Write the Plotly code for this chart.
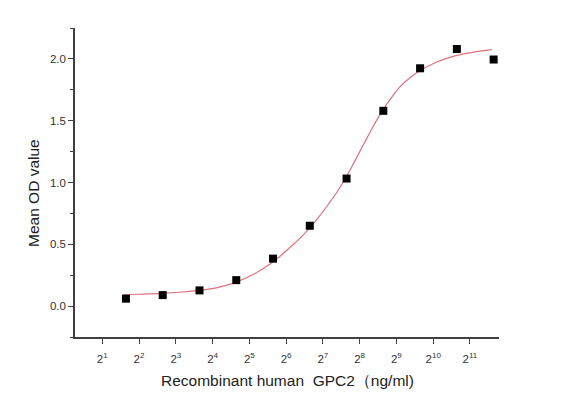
import plotly.graph_objects as go
import math

# Data
conc = [3.125, 6.25, 12.5, 25, 50, 100, 200, 400, 800, 1600, 3200]
od_mean = [0.06, 0.089, 0.127, 0.21, 0.384, 0.65, 1.032, 1.58, 1.924, 2.08, 1.995]

# Fitted curve (log2 of concentration, OD)
curve_log2 = [1.57, 2.0, 2.615, 3.1, 3.611, 4.1, 4.609, 5.1, 5.615, 5.86, 6.105, 6.38, 6.649,
              6.9, 7.14, 7.39, 7.627, 7.87, 8.12, 8.37, 8.615, 8.86, 9.1, 9.36, 9.613,
              10.1, 10.619, 11.1, 11.598]
curve_od = [0.092, 0.096, 0.103, 0.112, 0.127, 0.148, 0.19, 0.255, 0.35, 0.41, 0.475, 0.55, 0.635,
            0.725, 0.82, 0.925, 1.04, 1.175, 1.315, 1.455, 1.58, 1.685, 1.775, 1.845, 1.9,
            1.975, 2.026, 2.055, 2.075]
curve_conc = [2 ** v for v in curve_log2]

tick_pows = list(range(1, 12))
x_tickvals = [2 ** p for p in tick_pows]
x_ticktext = [f"2<sup>{p}</sup>" for p in tick_pows]
y_tickvals = [0.0, 0.5, 1.0, 1.5, 2.0]
y_ticktext = ["0.0", "0.5", "1.0", "1.5", "2.0"]

axis_color = "#404040"
font_fam = "Liberation Sans, Arial, sans-serif"

fig = go.Figure()
fig.add_trace(go.Scatter(
    x=curve_conc, y=curve_od, mode="lines",
    line=dict(color="#e0707a", width=1.2, shape="spline", smoothing=1.0),
    hoverinfo="skip", showlegend=False))
fig.add_trace(go.Scatter(
    x=conc, y=od_mean, mode="markers",
    marker=dict(symbol="square", size=8, color="#000000"),
    showlegend=False))

fig.update_layout(
    width=570, height=381,
    margin=dict(l=67, r=79, t=20, b=52),
    paper_bgcolor="white", plot_bgcolor="white",
    font=dict(family=font_fam, color="#333333", size=11),
    xaxis=dict(
        type="log",
        range=[0.258 * math.log10(2), 11.79 * math.log10(2)],
        tickvals=x_tickvals, ticktext=x_ticktext,
        ticks="outside", ticklen=5, tickwidth=1.2, tickcolor=axis_color,
        ticklabelstandoff=5,
        showline=True, linecolor=axis_color, linewidth=1.5,
        showgrid=False, zeroline=False,
        tickfont=dict(size=11.5, color="#333333"),
    ),
    yaxis=dict(
        range=[-0.25, 2.25],
        tickvals=y_tickvals, ticktext=y_ticktext,
        ticks="outside", ticklen=5, tickwidth=1.2, tickcolor=axis_color,
        minor=dict(ticks="outside", ticklen=3, tickwidth=1, tickcolor=axis_color, dtick=0.25, tick0=0.25),
        showline=True, linecolor=axis_color, linewidth=1.5,
        showgrid=False, zeroline=False,
        tickfont=dict(size=11.5, color="#333333"),
    ),
    annotations=[
        dict(text="Recombinant human  GPC2（ng/ml)", xref="paper", yref="paper",
             x=0.5, y=0, yshift=-43, xanchor="center", yanchor="middle",
             showarrow=False, font=dict(size=15.5, color="#222222")),
        dict(text="Mean OD value", xref="paper", yref="paper",
             x=0, xshift=-42, y=0.466, xanchor="center", yanchor="middle",
             textangle=-90, showarrow=False, font=dict(size=15.5, color="#222222")),
    ],
)

fig.write_html("out.html")
